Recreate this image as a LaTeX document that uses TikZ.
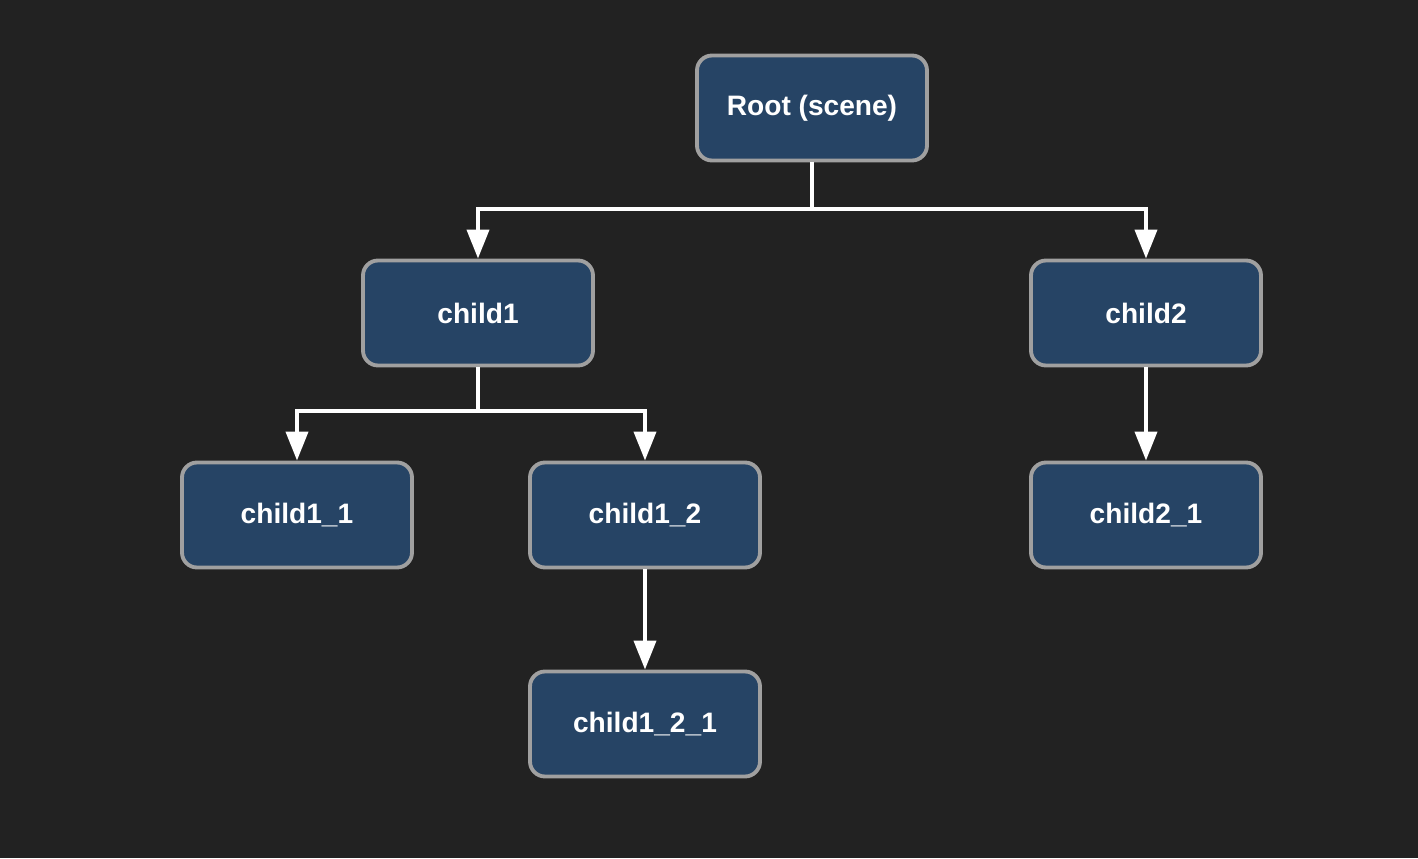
\documentclass[tikz,border=0pt]{standalone}
\usepackage{fontspec}
\setmainfont{Liberation Sans}
\usetikzlibrary{arrows.meta}
\definecolor{bgdark}{HTML}{222222}
\definecolor{boxfill}{HTML}{264465}
\definecolor{boxline}{HTML}{A0A0A0}
\tikzset{
	treebox/.style={shape=rectangle, draw=boxline, fill=boxfill, line width=2.2pt,
		rounded corners=0.3cm, minimum width=4.6cm, minimum height=2.1cm,
		text=white, font=\fontsize{16}{19}\selectfont\bfseries},
	link/.style={draw=white, line width=2.2pt, -{Triangle[length=0.58cm, width=0.44cm]}}
}
\begin{document}
\begin{tikzpicture}
		\fill[bgdark] (0,0) rectangle (28.36,17.16);
		\useasboundingbox (0,0) rectangle (28.36,17.16);

		% Nodi
		\node[treebox] (root) at (16.24, 15.0){\raisebox{-0.06cm}{Root (scene)}};
		\node[treebox] (child1) at (9.56, 10.9){child1};
		\node[treebox] (child2) at (22.92, 10.9){child2};
		\node[treebox] (child11) at (5.94, 6.86){child1\_1};
		\node[treebox] (child12) at (12.9, 6.86){child1\_2};
		\node[treebox] (child21) at (22.92, 6.86){child2\_1};
		\node[treebox] (child121) at (12.9, 2.68){child1\_2\_1};

		\coordinate (rootbus) at (16.24, 12.98);
		\coordinate (childbus) at (9.56, 8.94);

		% Collegamenti
		\draw[link] (root.south) -- (rootbus) -| (child1.north);
		\draw[link] (root.south) -- (rootbus) -| (child2.north);
		\draw[link] (child1.south) -- (childbus) -| (child11.north);
		\draw[link] (child1.south) -- (childbus) -| (child12.north);
		\draw[link] (child2) -- (child21);
		\draw[link] (child12) -- (child121);
	\end{tikzpicture}
\end{document}
